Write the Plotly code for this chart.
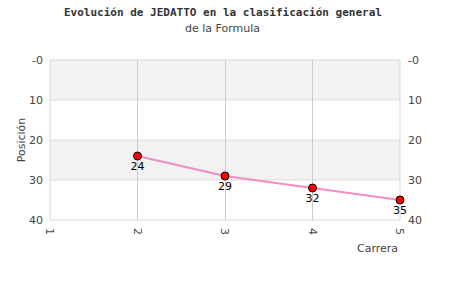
import plotly.graph_objects as go

races = [2, 3, 4, 5]
positions = [24, 29, 32, 35]
x_ticks = [1, 2, 3, 4, 5]
y_ticks = [0, 10, 20, 30, 40]
y_ticktext = ["-0", "10", "20", "30", "40"]

fig = go.Figure()

fig.add_trace(go.Scatter(
    x=races, y=positions, mode="lines+markers+text",
    text=[str(v) for v in positions], textposition="bottom center",
    textfont=dict(family="DejaVu Sans", size=11, color="#000"),
    line=dict(color="#f48cc4", width=2),
    marker=dict(symbol="circle", size=8, color="#ff0000", line=dict(color="#000", width=1)),
    showlegend=False, cliponaxis=False,
))
# invisible trace for right axis
fig.add_trace(go.Scatter(x=[races[0]], y=[positions[0]], yaxis="y2", mode="markers",
                         marker=dict(opacity=0), showlegend=False, hoverinfo="skip"))

shapes = []
for lo, hi in [(0, 10), (20, 30)]:
    shapes.append(dict(type="rect", xref="paper", yref="y", x0=0, x1=1, y0=lo, y1=hi,
                       fillcolor="#f2f2f2", line=dict(width=0), layer="below"))
for v in [10, 20, 30]:
    shapes.append(dict(type="line", xref="paper", yref="y", x0=0, x1=1, y0=v, y1=v,
                       line=dict(color="#dcdcdc", width=1), layer="below"))
shapes.append(dict(type="rect", xref="paper", yref="paper", x0=0, x1=1, y0=0, y1=1,
                   line=dict(color="#d8d8d8", width=1), layer="below"))

fig.update_layout(
    width=450, height=300,
    margin=dict(l=50, r=50, t=60, b=80),
    paper_bgcolor="white", plot_bgcolor="white",
    shapes=shapes,
    font=dict(family="DejaVu Sans", size=11, color="#444"),
    xaxis=dict(range=[1, 5], tickvals=x_ticks, ticktext=[str(t) for t in x_ticks],
               tickangle=90, showgrid=True, gridcolor="#cccccc", gridwidth=1,
               zeroline=False, showline=False, ticks="", ticklabelstandoff=7,
               tickfont=dict(size=11, color="#444")),
    yaxis=dict(range=[40, 0], tickvals=y_ticks, ticktext=y_ticktext, showgrid=False,
               zeroline=False, showline=False, ticks="", ticklabelstandoff=6,
               tickfont=dict(size=11, color="#444"),
               title=dict(text="Posición", font=dict(size=11, color="#444"), standoff=1)),
    yaxis2=dict(range=[40, 0], tickvals=y_ticks, ticktext=y_ticktext, overlaying="y",
                side="right", showgrid=False, zeroline=False, showline=False, ticks="",
                ticklabelstandoff=7, tickfont=dict(size=11, color="#444")),
    annotations=[
        dict(text="<b>Evolución de JEDATTO en la clasificación general</b>", x=0.494, y=1.294,
             xref="paper", yref="paper", showarrow=False, xanchor="center", yanchor="middle",
             font=dict(family="DejaVu Sans Mono", size=11, color="#333")),
        dict(text="de la Formula", x=0.494, y=1.2, xref="paper", yref="paper",
             showarrow=False, xanchor="center", yanchor="middle",
             font=dict(family="DejaVu Sans", size=11, color="#444")),
        dict(text="Carrera", x=1, y=0, xref="paper", yref="paper", xanchor="right",
             yanchor="top", yshift=-20, showarrow=False, font=dict(size=11, color="#444")),
    ],
)

fig.write_html("out.html")
